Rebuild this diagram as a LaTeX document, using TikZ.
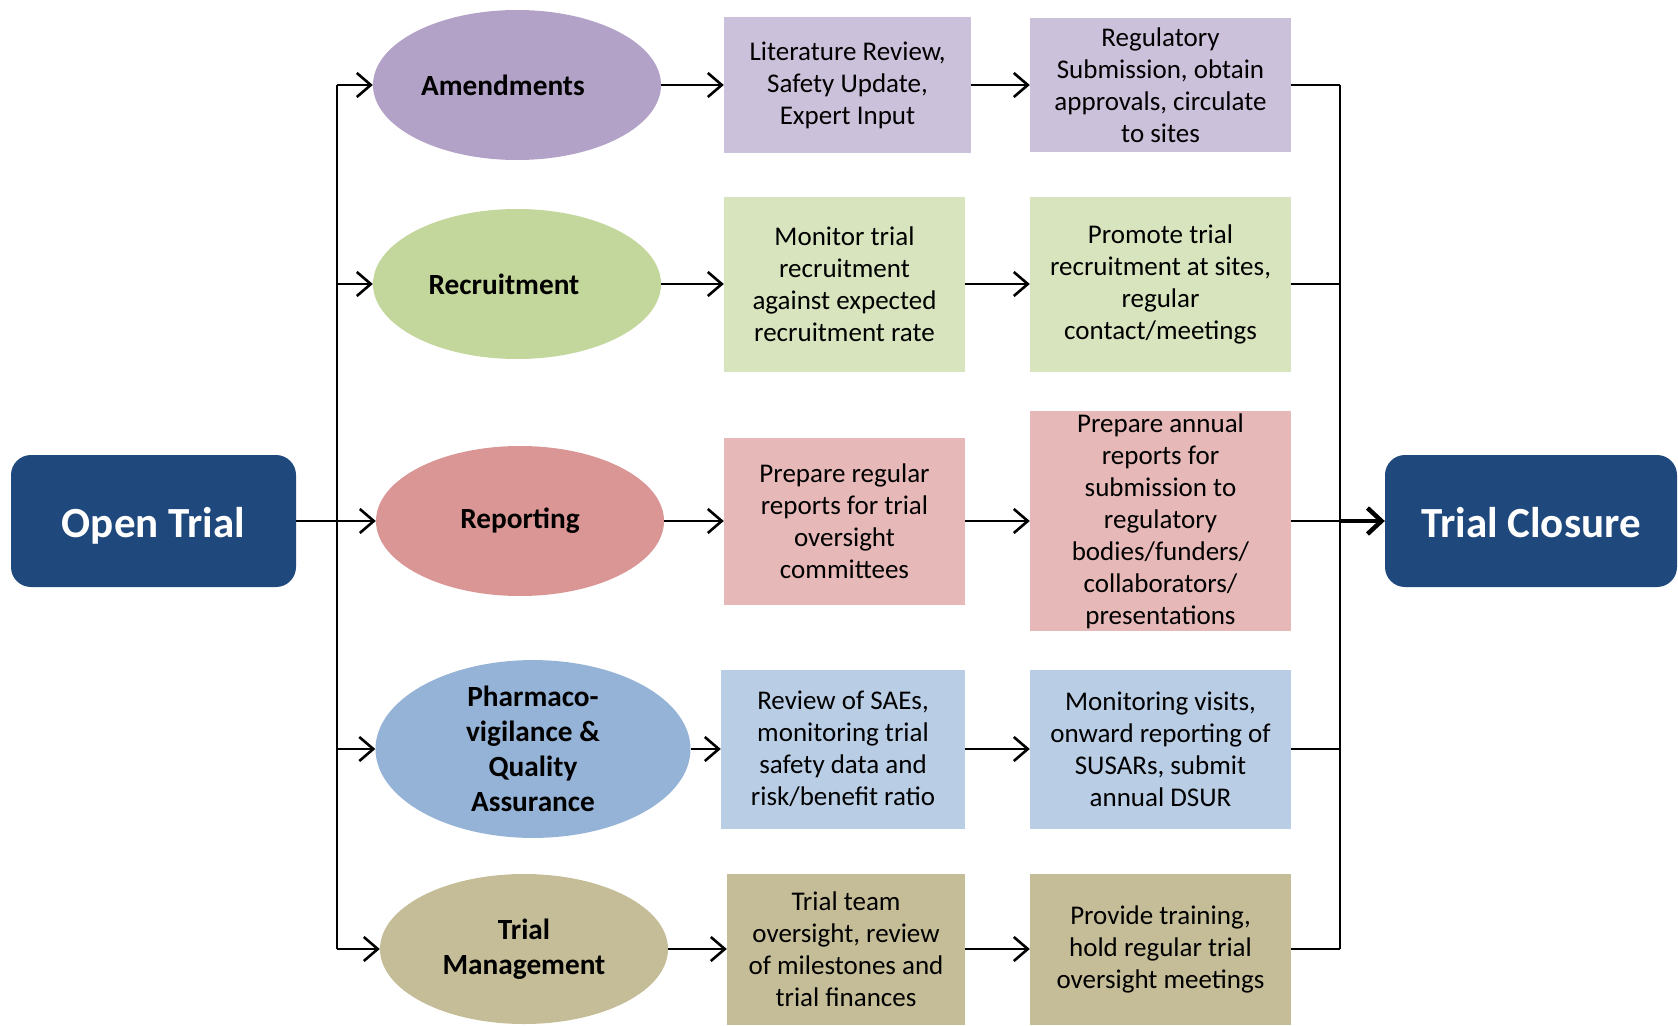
\documentclass[tikz,border=0pt]{standalone}
\usepackage{fontspec}
\setmainfont{Carlito}
\usetikzlibrary{arrows.meta,shapes.geometric}
\definecolor{navy}{RGB}{31,73,125}
\definecolor{purE}{HTML}{B3A2C7}\definecolor{purB}{HTML}{CCC1DA}
\definecolor{grnE}{HTML}{C3D69B}\definecolor{grnB}{HTML}{D7E4BD}
\definecolor{redE}{HTML}{D99694}\definecolor{redB}{HTML}{E6B9B8}
\definecolor{bluE}{HTML}{95B3D7}\definecolor{bluB}{HTML}{B9CDE5}
\definecolor{tanE}{HTML}{C4BD97}\definecolor{tanB}{HTML}{C4BD97}
\begin{document}
\begin{tikzpicture}[x=1pt,y=-1pt,
  endbox/.style={rounded corners=20pt,fill=navy,text=white,inner sep=0pt,
    minimum height=132pt,text height=40pt,text depth=8pt,
    font=\fontsize{43}{51}\selectfont\bfseries},
  oval/.style={ellipse,inner sep=0pt,minimum width=288pt,minimum height=150pt,
    align=center,font=\fontsize{29.3}{35}\selectfont\bfseries},
  tbox/.style={inner sep=0pt,align=center,font=\fontsize{27}{32}\selectfont},
  conn/.style={line width=2.6pt,draw=black},
  arr/.style={conn,-{Straight Barb[length=14pt,width=24pt]}},
  bigarr/.style={line width=4.5pt,-{Straight Barb[length=14pt,width=26pt]}}]
\useasboundingbox (0,0) rectangle (1678,1025);
% end boxes
\node[endbox,minimum width=285pt] (open) at (153.5,521) {Open Trial};
\node[endbox,minimum width=292pt] (close) at (1531,521) {Trial Closure};
% ellipses
\node[oval,fill=purE] (amend) at (517,85) {Amendments\hspace*{28pt}};
\node[oval,fill=grnE] (recr) at (517,284) {Recruitment\hspace*{26pt}};
\node[oval,fill=redE] (rep) at (520,521) {Reporting};
\node[oval,fill=bluE,minimum width=315pt,minimum height=152pt] (pharm) at (533,749) {Pharmaco-\\vigilance \&\\Quality\\Assurance};
\node[oval,fill=tanE] (mgmt) at (524,949) {Trial\\Management};
% column 1 boxes
\node[tbox,fill=purB,minimum width=247pt,minimum height=135pt] (b11) at (847.5,85) {Literature Review,\\Safety Update,\\Expert Input};
\node[tbox,fill=grnB,minimum width=241pt,minimum height=175pt] (b21) at (844.5,284) {Monitor trial\\recruitment\\against expected\\recruitment rate};
\node[tbox,fill=redB,minimum width=241pt,minimum height=167pt] (b31) at (844.5,521) {Prepare regular\\reports for trial\\oversight\\committees};
\node[tbox,fill=bluB,minimum width=244pt,minimum height=159pt] (b41) at (843,749) {Review of SAEs,\\monitoring trial\\safety data and\\risk/benefit ratio};
\node[tbox,fill=tanB,minimum width=238pt,minimum height=151pt] (b51) at (846,949) {Trial team\\oversight, review\\of milestones and\\trial finances};
% column 2 boxes
\node[tbox,fill=purB,minimum width=261pt,minimum height=134pt] (b12) at (1160.5,85) {Regulatory\\Submission, obtain\\approvals, circulate\\to sites};
\node[tbox,fill=grnB,minimum width=261pt,minimum height=175pt] (b22) at (1160.5,284) {Promote trial\\recruitment at sites,\\regular\\contact/meetings};
\node[tbox,fill=redB,minimum width=261pt,minimum height=220pt] (b32) at (1160.5,521) {Prepare annual\\reports for\\submission to\\regulatory\\bodies/funders/\\collaborators/\\presentations};
\node[tbox,fill=bluB,minimum width=261pt,minimum height=159pt] (b42) at (1160.5,749) {Monitoring visits,\\onward reporting of\\SUSARs, submit\\annual DSUR};
\node[tbox,fill=tanB,minimum width=261pt,minimum height=151pt] (b52) at (1160.5,949) {Provide training,\\hold regular trial\\oversight meetings};
% trunk coordinates
\coordinate (L1) at (337,85);
\coordinate (L2) at (337,284);
\coordinate (L4) at (337,749);
\coordinate (L5) at (337,949);
\coordinate (R1) at (1340,85);
\coordinate (R2) at (1340,284);
\coordinate (R3) at (1340,521);
\coordinate (R4) at (1340,749);
\coordinate (R5) at (1340,949);
% left trunk
\draw[conn] (L1) -- (L5);
\draw[arr] (L1) -- (amend);
\draw[arr] (L2) -- (recr);
\draw[arr] (open) -- (rep);
\draw[arr] (L4) -- (pharm);
\draw[arr] (L5) -- (mgmt);
% ellipse to box
\draw[arr] (amend) -- (b11);
\draw[arr] (recr) -- (b21);
\draw[arr] (rep) -- (b31);
\draw[arr] (pharm) -- (b41);
\draw[arr] (mgmt) -- (b51);
% box to box
\draw[arr] (b11) -- (b12);
\draw[arr] (b21) -- (b22);
\draw[arr] (b31) -- (b32);
\draw[arr] (b41) -- (b42);
\draw[arr] (b51) -- (b52);
% right trunk
\draw[conn] (R1) -- (R5);
\draw[conn] (b12.east) -- (R1);
\draw[conn] (b22.east) -- (R2);
\draw[conn] (b32.east) -- (R3);
\draw[conn] (b42.east) -- (R4);
\draw[conn] (b52.east) -- (R5);
\draw[bigarr] (R3) -- (close);
\end{tikzpicture}
\end{document}
